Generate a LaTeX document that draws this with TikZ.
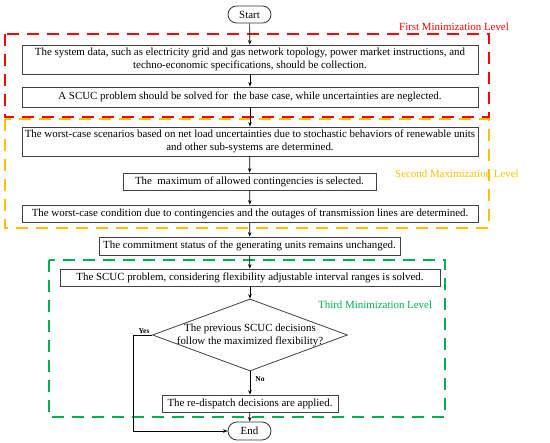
\documentclass[tikz,border=0pt]{standalone}
\usepackage{fontspec}
\setmainfont{Liberation Serif}
\usetikzlibrary{arrows.meta,shapes.geometric,shapes.misc}
\definecolor{redlvl}{RGB}{255,0,0}
\definecolor{yellvl}{RGB}{255,192,0}
\definecolor{grnlvl}{RGB}{0,176,80}
\begin{document}
\begin{tikzpicture}[x=1pt,y=-1pt,
  proc/.style={draw=black!75,line width=0.8pt,inner sep=0pt,align=center,font=\fontsize{10.9}{13}\selectfont},
  term/.style={draw=black!80,line width=0.8pt,rounded rectangle,inner sep=0pt,minimum width=43pt,minimum height=17pt,font=\fontsize{10.9}{13}\selectfont},
  conn/.style={line width=0.7pt,-{Stealth[length=4.5pt,width=3.5pt]}},
  lvlbox/.style={line width=1.15pt,dash pattern=on 12pt off 8pt},
  lvltxt/.style={font=\fontsize{10.9}{13}\selectfont},
  yn/.style={font=\bfseries\fontsize{7.5}{8}\selectfont,inner sep=0pt}]
\useasboundingbox (0,0) rectangle (550,443);
% level frames
\draw[lvlbox,color=redlvl] (5,34) rectangle (489,117);
\draw[lvlbox,color=yellvl] (5,119) rectangle (489,228);
\draw[lvlbox,color=grnlvl] (49,260) rectangle (445,417);
\node[lvltxt,text=redlvl,anchor=base east,inner sep=0pt] (l1) at (509,31) {First Minimization Level};
\node[lvltxt,text=yellvl,anchor=west,inner sep=0pt] (l2) at (395,174) {Second Maximization Level};
\node[lvltxt,text=grnlvl,anchor=west,inner sep=0pt] (l3) at (318,305) {Third Minimization Level};
% nodes
\node[term] (start) at (249.5,14.5) {Start};
\node[proc,minimum width=456pt,minimum height=29pt] (b1) at (250,59.5) {The system data, such as electricity grid and gas network topology, power market instructions, and\\techno-economic specifications, should be collection.};
\node[proc,minimum width=456pt,minimum height=20pt] (b2) at (250,97) {A SCUC problem should be solved for\ \ the base case, while uncertainties are neglected.};
\node[proc,minimum width=456pt,minimum height=29pt] (b3) at (250,141.5) {The worst-case scenarios based on net load uncertainties due to stochastic behaviors of renewable units\\and other sub-systems are determined.};
\node[proc,minimum width=253pt,minimum height=17pt] (b4) at (249.5,181.5) {The\ \ maximum of allowed contingencies is selected.};
\node[proc,minimum width=456pt,minimum height=17pt] (b5) at (250,213.5) {The worst-case condition due to contingencies and the outages of transmission lines are determined.};
\node[proc,minimum width=301pt,minimum height=18pt] (b6) at (249.5,246) {The commitment status of the generating units remains unchanged.};
\node[proc,minimum width=380pt,minimum height=17pt] (b7) at (250,277.5) {The SCUC problem, considering flexibility adjustable interval ranges is solved.};
\node[draw=black!75,line width=0.8pt,diamond,minimum width=195pt,minimum height=72pt,inner sep=0pt] (dec) at (250,335) {};
\node[proc,draw=none] (dect) at (250,335) {The previous SCUC decisions\\follow the maximized flexibility?};
\node[proc,minimum width=176pt,minimum height=17pt] (b8) at (250,403.5) {The re-dispatch decisions are applied.};
\node[term,minimum height=18pt] (end) at (249.5,431) {End};
\coordinate (yc) at (133,335);
% connectors
\draw[conn] (start) -- (b1);
\draw[conn] (b1) -- (b2);
\draw[conn] (b2) -- (b3);
\draw[conn] (b3) -- (b4);
\draw[conn] (b4) -- (b5);
\draw[conn] (b5) -- (b6);
\draw[conn] (b6) -- (b7);
\draw[conn] (b7) -- (dec.north);
\draw[conn] (dec.south) -- (b8);
\draw[conn] (b8) -- (end);
\draw[conn] (dec.west) -- (yc) |- (end.west);
\node[yn] (yes) at (144,331) {Yes};
\node[yn] (no) at (260,379) {No};
\end{tikzpicture}
\end{document}
